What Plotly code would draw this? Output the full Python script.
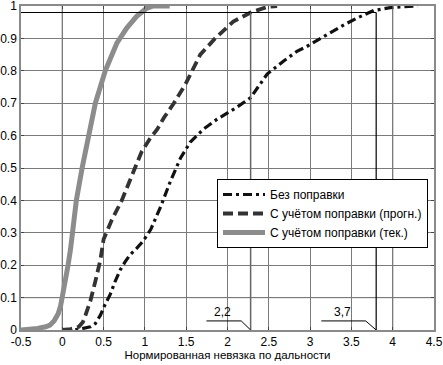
import plotly.graph_objects as go

# Data
x_bez = [0, 0.1, 0.22, 0.34, 0.4, 0.46, 0.52, 0.58, 0.64, 0.7, 0.76, 0.82, 0.9, 0.98, 1.07, 1.19,
         1.31, 1.43, 1.55, 1.71, 1.87, 2.11, 2.28, 2.48, 2.68, 2.84, 2.96, 3.16, 3.41, 3.57, 3.77,
         3.97, 4.17, 4.3]
y_bez = [0, 0, 0.003, 0.01, 0.02, 0.045, 0.08, 0.11, 0.15, 0.185, 0.21, 0.232, 0.252, 0.275, 0.31,
         0.38, 0.46, 0.53, 0.58, 0.62, 0.65, 0.687, 0.717, 0.79, 0.83, 0.86, 0.875, 0.906, 0.942,
         0.963, 0.986, 0.995, 0.999, 1.0]

x_progn = [0, 0.1, 0.2, 0.25, 0.28, 0.34, 0.4, 0.46, 0.5, 0.6, 0.72, 0.8, 0.88, 0.96, 1.06, 1.15,
           1.23, 1.35, 1.49, 1.67, 1.85, 2.07, 2.28, 2.48, 2.6]
y_progn = [0, 0.003, 0.01, 0.025, 0.045, 0.09, 0.15, 0.215, 0.28, 0.34, 0.4, 0.45, 0.5, 0.55,
           0.59, 0.62, 0.655, 0.70, 0.758, 0.85, 0.9, 0.952, 0.98, 0.997, 1.0]

x_tek = [-0.5, -0.4, -0.3, -0.2, -0.15, -0.1, -0.05, -0.02, 0, 0.04, 0.07, 0.1, 0.12, 0.17, 0.24,
         0.32, 0.40, 0.52, 0.66, 0.78, 0.9, 1.02, 1.1, 1.3]
y_tek = [0, 0.002, 0.005, 0.01, 0.015, 0.028, 0.05, 0.075, 0.1, 0.15, 0.2, 0.25, 0.3, 0.4, 0.5,
         0.6, 0.7, 0.8, 0.885, 0.932, 0.968, 0.993, 1.0, 1.0]

series_names = ["Без поправки", "С учётом поправки (прогн.)", "С учётом поправки (тек.)"]
x_ticks = [-0.5, 0, 0.5, 1, 1.5, 2, 2.5, 3, 3.5, 4, 4.5]
y_ticks = [0, 0.1, 0.2, 0.3, 0.4, 0.5, 0.6, 0.7, 0.8, 0.9, 1]
y_tick_text = ["0", "0.1", "0.2", "0.3", "0.4", "0.5", "0.6", "0.7", "0.8", "0.9", "1"]
x_tick_text = ["-0.5", "0", "0.5", "1", "1.5", "2", "2.5", "3", "3.5", "4", "4.5"]
level = 0.98
mark_a, mark_b = 2.28, 3.8
label_a, label_b = "2,2", "3,7"
x_title = "Нормированная невязка по дальности"

fig = go.Figure()
fig.add_trace(go.Scatter(x=x_bez, y=y_bez, mode="lines", name=series_names[0],
                         line=dict(color="#111111", width=3.2, dash="9px,4px,3px,4px")))
fig.add_trace(go.Scatter(x=x_progn, y=y_progn, mode="lines", name=series_names[1],
                         line=dict(color="#333333", width=3.8, dash="10px,5px")))
fig.add_trace(go.Scatter(x=x_tek, y=y_tek, mode="lines", name=series_names[2],
                         line=dict(color="#8c8c8c", width=5)))

shapes = []
# darker grid lines as in the reference
for xv in [0, 2, 4]:
    shapes.append(dict(type="line", xref="x", yref="y", x0=xv, x1=xv, y0=0, y1=1,
                       line=dict(color="#222222", width=1), layer="below"))
shapes.append(dict(type="line", xref="x", yref="y", x0=-0.5, x1=4.5, y0=0.1, y1=0.1,
                   line=dict(color="#222222", width=1), layer="below"))
# level line and markers
shapes.append(dict(type="line", xref="x", yref="y", x0=-0.5, x1=mark_b, y0=level, y1=level,
                   line=dict(color="black", width=1.2)))
shapes.append(dict(type="line", xref="x", yref="y", x0=mark_b, x1=mark_b, y0=0, y1=level,
                   line=dict(color="black", width=1.2)))
shapes.append(dict(type="line", xref="x", yref="y", x0=mark_a, x1=mark_a, y0=0, y1=level,
                   line=dict(color="#666666", width=1.5)))
# leader lines for labels
shapes.append(dict(type="path", xref="x", yref="y",
                   path=f"M 1.745 0.028 L 2.166 0.028 L {mark_a} 0",
                   line=dict(color="black", width=1)))
shapes.append(dict(type="path", xref="x", yref="y",
                   path=f"M 3.136 0.028 L 3.673 0.028 L {mark_b} 0",
                   line=dict(color="black", width=1)))

annotations = [
    dict(x=1.94, y=0.028, xref="x", yref="y", text=label_a, showarrow=False,
         yanchor="bottom", xanchor="center", font=dict(size=12, color="black")),
    dict(x=3.39, y=0.028, xref="x", yref="y", text=label_b, showarrow=False,
         yanchor="bottom", xanchor="center", font=dict(size=12, color="black")),
]

axis_common = dict(showgrid=True, gridcolor="#7a7a7a", gridwidth=1.4, zeroline=False,
                   showline=True, linecolor="#8a8a8a", linewidth=1.5, mirror="ticks",
                   ticks="inside", ticklen=3, tickcolor="#444444", automargin=False,
                   ticklabeloverflow="allow", tickfont=dict(size=12, color="black"))

fig.update_layout(
    width=443, height=365,
    margin=dict(l=21, r=9, t=6, b=35),
    paper_bgcolor="white", plot_bgcolor="white",
    font=dict(family="Liberation Sans, Arial, sans-serif", color="black"),
    showlegend=True,
    legend=dict(x=0.4746, y=0.466, xanchor="left", yanchor="top",
                bgcolor="white", bordercolor="black", borderwidth=1, itemwidth=42,
                font=dict(size=12, color="black"), tracegroupgap=0),
    shapes=shapes,
    annotations=annotations,
    xaxis=dict(range=[-0.5, 4.5], tickvals=x_ticks, ticktext=x_tick_text,
               title=dict(text=x_title, font=dict(size=11.5), standoff=2), **axis_common),
    yaxis=dict(range=[0, 1], tickvals=y_ticks, ticktext=y_tick_text, **axis_common),
)

fig.write_html("out.html", config={"displayModeBar": False},
               post_script="document.body.style.margin='0';document.body.style.overflow='hidden';")
